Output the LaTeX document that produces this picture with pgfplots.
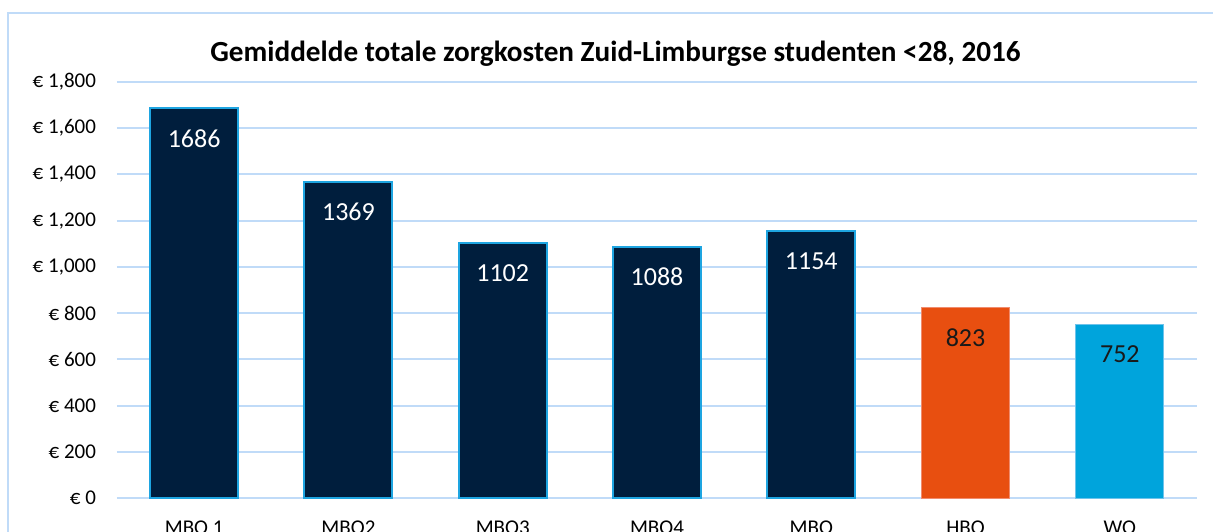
\documentclass[border=0pt]{standalone}
\usepackage{pgfplots}
\pgfplotsset{compat=1.18}
\usepackage{fontspec}
\setmainfont{Carlito}
\definecolor{navy}{RGB}{0,30,61}
\definecolor{navyedge}{RGB}{30,165,225}
\definecolor{hbo}{RGB}{232,79,16}
\definecolor{hboedge}{RGB}{240,140,110}
\definecolor{wo}{RGB}{0,164,220}
\definecolor{woedge}{RGB}{110,195,235}
\definecolor{gridblue}{RGB}{192,219,248}
\begin{document}
\begin{tikzpicture}
\begin{axis}[at={(0,0)}, anchor=south west, scale only axis,
  width=540pt, height=208pt,
  xmin=-0.5, xmax=6.5, ymin=0, ymax=1800,
  ytick={0,200,...,1800},
  yticklabels={€ 0,€ 200,€ 400,€ 600,€ 800,{€ 1,000},{€ 1,200},{€ 1,400},{€ 1,600},{€ 1,800}},
  xtick={0,...,6},
  xticklabels={MBO 1,MBO2,MBO3,MBO4,MBO,HBO,WO},
  axis line style={draw=none}, major tick length=0pt,
  ymajorgrids, grid style={gridblue, line width=1pt},
  ticklabel style={font=\fontsize{10.5}{12}\selectfont, text=black},
  yticklabel style={xshift=-7pt},
  xticklabel style={yshift=-8pt},
  clip=false,
]
\addplot[ybar, bar width=44pt, bar shift=0pt, fill=navy, draw=navyedge, line width=1pt,
  nodes near coords, point meta=explicit symbolic,
  every node near coord/.append style={text=white, anchor=center, yshift=-15pt, font=\fontsize{13}{15}\selectfont}]
  coordinates {(0,1686)[1686] (1,1369)[1369] (2,1102)[1102] (3,1088)[1088] (4,1154)[1154]};
\addplot[ybar, bar width=44pt, bar shift=0pt, fill=hbo, draw=hboedge, line width=0.5pt,
  nodes near coords, point meta=explicit symbolic,
  every node near coord/.append style={text=black!90, anchor=center, yshift=-15pt, font=\fontsize{13}{15}\selectfont}]
  coordinates {(5,823)[823]};
\addplot[ybar, bar width=44pt, bar shift=0pt, fill=wo, draw=woedge, line width=0.5pt,
  nodes near coords, point meta=explicit symbolic,
  every node near coord/.append style={text=black!90, anchor=center, yshift=-15pt, font=\fontsize{13}{15}\selectfont}]
  coordinates {(6,752)[752]};
\end{axis}
\draw[gridblue, line width=1pt] (-54.5pt,-40pt) -- (-54.5pt,242.5pt) -- (620pt,242.5pt);
\node[anchor=base, font=\bfseries\fontsize{14.6}{17}\selectfont] at (249.25pt,218.2pt)
  {Gemiddelde totale zorgkosten Zuid-Limburgse studenten <28, 2016};
\pgfresetboundingbox
\path[use as bounding box] (-58.5pt,-16.5pt) rectangle (548pt,249pt);
\end{tikzpicture}
\end{document}
